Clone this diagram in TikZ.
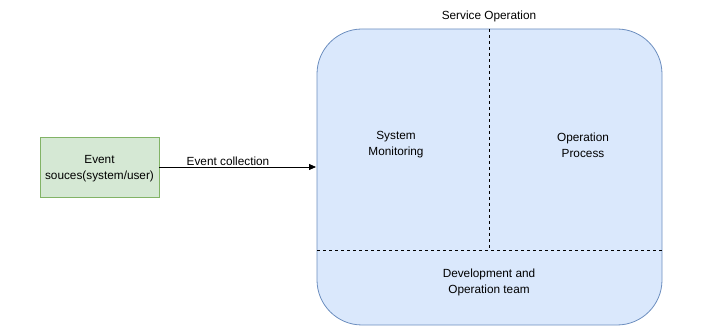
\documentclass[tikz,border=0pt]{standalone}
\usepackage{fontspec}
\setmainfont{Liberation Sans}
\usetikzlibrary{arrows.meta}
\definecolor{gfill}{HTML}{D5E8D4}
\definecolor{gdraw}{HTML}{82B366}
\definecolor{bfill}{HTML}{DAE8FC}
\definecolor{bdraw}{HTML}{6C8EBF}
\begin{document}
\begin{tikzpicture}[x=1pt,y=-1pt,
  lbl/.style={font=\fontsize{11.8}{16}\selectfont, align=center, inner sep=0pt, yshift=-2pt},
  divider/.style={draw=black, dash pattern=on 3pt off 3pt, line width=0.8pt},
  conn/.style={draw=black, line width=0.8pt, -{Triangle[length=7pt,width=6pt]}}]
\useasboundingbox (0,0) rectangle (703,336);
% service box
\draw[fill=bfill, draw=bdraw, line width=0.8pt, rounded corners=45pt] (317,29) rectangle (662,325);
\coordinate (vt) at (489,29);
\coordinate (vb) at (489,250);
\coordinate (hl) at (317,250);
\coordinate (hr) at (662,250);
\draw[divider] (vt) -- (vb);
\draw[divider] (hl) -- (hr);
\coordinate (boxw) at (316,167);
% source
\node[draw=gdraw, fill=gfill, line width=0.8pt, minimum width=119pt, minimum height=60pt] (src) at (99.5,167) {};
\node[lbl] (srct) at (src.center) {Event\\souces(system/user)};
\draw[conn] (src.east) -- (boxw);
\node[lbl] (ec) at (228,159) {Event collection};
\node[lbl] (sm) at (396,143) {System\\Monitoring};
\node[lbl] (op) at (583,143) {Operation\\Process};
\node[lbl] (dev) at (489,280) {Development and\\Operation team};
\node[lbl] (so) at (489,14) {Service Operation};
\end{tikzpicture}
\end{document}
